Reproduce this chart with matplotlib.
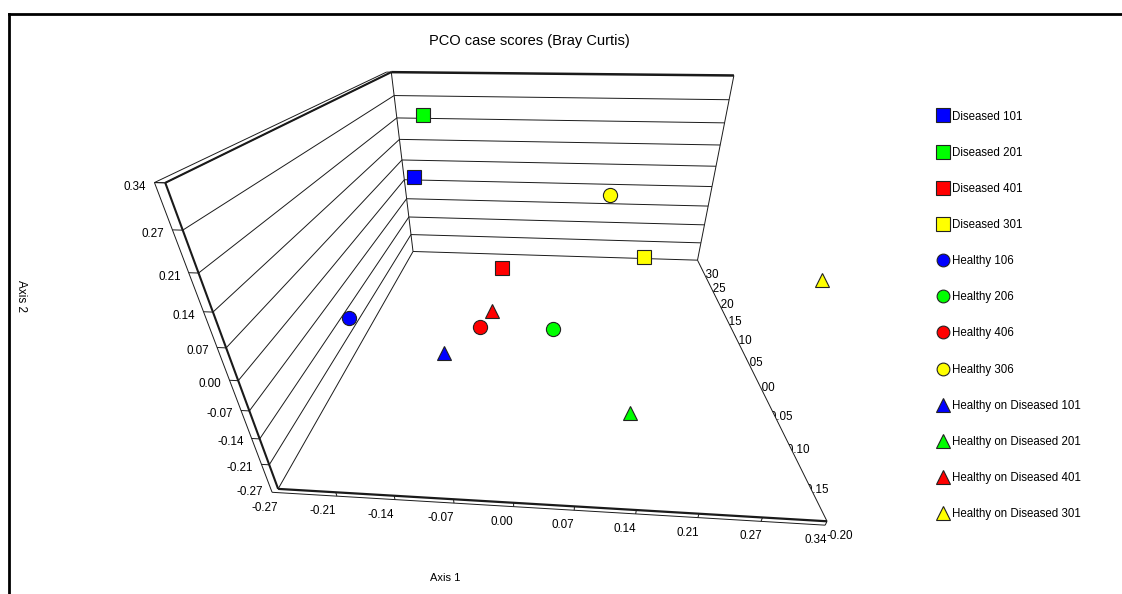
import matplotlib
matplotlib.use('Agg')
import matplotlib.pyplot as plt
from matplotlib.lines import Line2D
from mpl_toolkits.mplot3d import proj3d
from mpl_toolkits.mplot3d.art3d import Poly3DCollection

plt.rcParams['font.family'] = ['Liberation Sans', 'DejaVu Sans']

# PCO case scores
names = ['Diseased 101', 'Diseased 201', 'Diseased 401', 'Diseased 301',
         'Healthy 106', 'Healthy 206', 'Healthy 406', 'Healthy 306',
         'Healthy on Diseased 101', 'Healthy on Diseased 201',
         'Healthy on Diseased 401', 'Healthy on Diseased 301']
axis1 = [-0.252, -0.221, -0.049, 0.216, -0.237, 0.038, -0.070, 0.131,
         -0.112, 0.128, -0.060, 0.322]
axis2 = [0.015, 0.219, -0.103, -0.210, -0.077, -0.086, -0.161, 0.042,
         -0.166, -0.129, -0.179, 0.116]
axis3 = [0.294, 0.294, 0.096, 0.245, -0.052, -0.052, -0.002, 0.195,
         -0.052, -0.151, 0.047, -0.101]
markers = ['s'] * 4 + ['o'] * 4 + ['^'] * 4
colors = ['#0000ff', '#00ff00', '#ff0000', '#ffff00'] * 3

# axis ticks (axis 1 and axis 2 share the same scale)
ticks12 = [-0.2745, -0.2059, -0.1373, -0.0686, 0.0, 0.0686, 0.1373,
           0.2059, 0.2745, 0.3432]
labels12 = ['-0.27', '-0.21', '-0.14', '-0.07', '0.00', '0.07', '0.14',
            '0.21', '0.27', '0.34']
ticks3 = [-0.20, -0.15, -0.10, -0.05, 0.00, 0.05, 0.10, 0.15, 0.20, 0.25, 0.30]
labels3 = ['-0.20', '-0.15', '-0.10', '-0.05', '0.00', '0.05', '0.10',
           '0.15', '0.20', '0.25', '0.30']

# view set-up (camera looks down at the box from the front)
ELEV, AZIM = 30.8, -86.1
FOCAL = 0.1592
ZOOM = 1.061
BOX = (1.0, 1.012, 0.594)
aim = (-0.0088, 0.0153, -0.0797)   # axis1, axis3, axis2 the camera points at

x0, x1 = ticks12[0], ticks12[-1]
z0, z1 = ticks12[0], ticks12[-1]
y0, y1 = ticks3[0], ticks3[-1]
dx_wall = 0.009    # wall thickness
dz_floor = 0.0114  # floor thickness

fig = plt.figure(figsize=(11.22, 5.94), dpi=100)
ax = fig.add_axes([217 / 1122, -4 / 594, 594 / 1122, 1.0], projection='3d')
ax.computed_zorder = False
ax.set_axis_off()
ax.patch.set_alpha(0)
ax.set_proj_type('persp', focal_length=FOCAL)
ax.view_init(elev=ELEV, azim=AZIM, roll=0)
ax.set_box_aspect(BOX, zoom=ZOOM)
hx, hy, hz = (x1 - x0) / 2, (y1 - y0) / 2, (z1 - z0) / 2
ax.set_xlim(aim[0] - hx, aim[0] + hx)
ax.set_ylim(aim[1] - hy, aim[1] + hy)
ax.set_zlim(aim[2] - hz, aim[2] + hz)
M = ax.get_proj()


def seg(p, q, lw=0.7, color='#1a1a1a'):
    ax.plot([p[0], q[0]], [p[1], q[1]], [p[2], q[2]], color=color, lw=lw,
            zorder=3, clip_on=False, solid_capstyle='butt')


def label(x, y, z, s, dx, dy, **kw):
    # project the 3d anchor, then place a flat text with a pixel offset
    u, v, _ = proj3d.proj_transform(x, y, z, M)
    ax.annotate(s, (u, v), xytext=(dx, dy), textcoords='offset pixels',
                annotation_clip=False, fontsize=8.4, **kw)


# axis 3 labels sit partly under the floor, which is drawn white over them
for t, lab in zip(ticks3, labels3):
    label(x1, t, z0, lab, -1, -9, ha='left', va='top', zorder=1)
floor = Poly3DCollection([[(x0, y0, z0), (x1, y0, z0), (x1, y1, z0), (x0, y1, z0)]],
                         facecolor='white', edgecolor='none', zorder=2)
floor.set_clip_on(False)
ax.add_collection3d(floor)

# back wall
for t in ticks12:
    seg((x0, y1, t), (x1, y1, t))
seg((x0, y1, z0), (x0, y1, z1))
seg((x1, y1, z0), (x1, y1, z1))
seg((x0, y1, z1), (x1, y1, z1), lw=1.8)

# left wall
for t in ticks12:
    seg((x0, y0, t), (x0, y1, t))
seg((x0, y0, z0), (x0, y0, z1), lw=1.5)
seg((x0, y0, z1), (x0, y1, z1), lw=1.5)
xo = x0 - dx_wall
seg((xo, y0, z0 - dz_floor), (xo, y0, z1))
seg((xo, y0, z1), (xo, y1, z1))
seg((xo, y0, z1), (x0, y0, z1))
seg((xo, y1, z1), (x0, y1, z1))
for t in ticks12[1:]:
    seg((xo, y0, t), (x0, y0, t))

# floor
seg((x0, y0, z0), (x1, y0, z0), lw=1.6)
seg((x1, y0, z0), (x1, y1, z0))
seg((xo, y0, z0 - dz_floor), (x1, y0, z0 - dz_floor))
seg((x1, y0, z0), (x1, y0, z0 - dz_floor))
for t in ticks12[1:-1]:
    seg((t, y0, z0), (t, y0, z0 - dz_floor))

# tick labels of axis 1 (front edge) and axis 2 (left wall)
for t, lab in zip(ticks12, labels12):
    label(t, y0, z0, lab, 0, -19, ha='right', va='center', zorder=5)
    label(xo, y0, t, lab, -8, -4, ha='right', va='center', zorder=5)

# the case scores
handles = []
for i in range(len(names)):
    ms = 10.5 if markers[i] != 'o' else 10.2
    h, = ax.plot([axis1[i]], [axis3[i]], [axis2[i]], ls='none',
                 marker=markers[i], ms=ms, mfc=colors[i], mec='#222222',
                 mew=0.8, label=names[i], zorder=6, clip_on=False)
    handles.append(h)

fig.legend(handles=handles, loc='upper left',
           bbox_to_anchor=(937.5 / 1122, 1 - 110.5 / 594), frameon=False,
           fontsize=8.3, handlelength=1.0, handletextpad=0.25,
           labelspacing=2.095, borderpad=0, borderaxespad=0, markerscale=0.9)

fig.text(529 / 1122, 1 - 41 / 594, 'PCO case scores (Bray Curtis)',
         ha='center', va='center', fontsize=10.5)
fig.text(445 / 1122, 1 - 578 / 594, 'Axis 1', ha='center', va='center',
         fontsize=8)
fig.text(21 / 1122, 1 - 296 / 594, 'Axis 2', ha='center', va='center',
         fontsize=8.5, rotation=270)

# outer frame (top and left edges only are inside the picture)
fig.add_artist(Line2D([8.5 / 1122, 1.0], [1 - 13.5 / 594] * 2, color='black',
                      lw=2, transform=fig.transFigure))
fig.add_artist(Line2D([8.5 / 1122] * 2, [0.0, 1 - 13.5 / 594], color='black',
                      lw=2, transform=fig.transFigure))

fig.savefig('out.png', dpi=100)
